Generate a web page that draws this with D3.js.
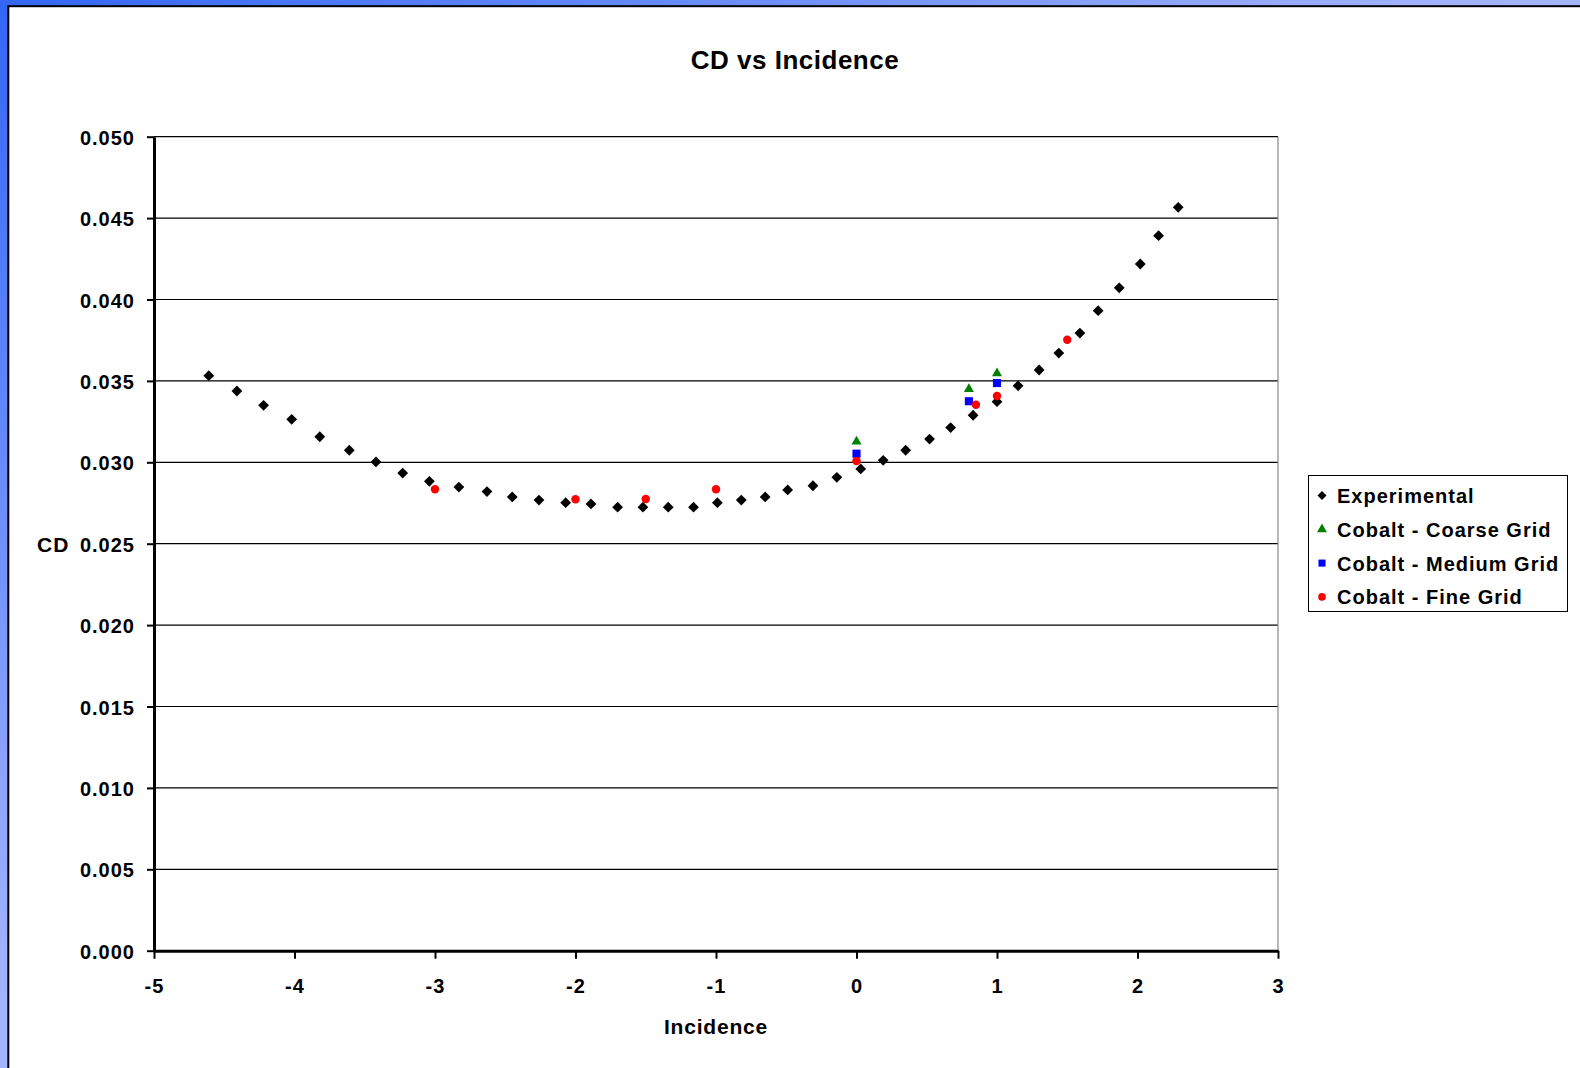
<!DOCTYPE html>
<html>
<head>
<meta charset="utf-8">
<script src="https://cdn.jsdelivr.net/npm/d3@7"></script>
<style>
  body { margin: 0; overflow: hidden; }
  text { font-family: "Liberation Sans", Arial, sans-serif; font-weight: bold; fill: #000; }
</style>
</head>
<body>
<script>
// Experimental data
var expX = [-4.61, -4.41, -4.22, -4.02, -3.82, -3.61, -3.42, -3.23, -3.04, -2.83, -2.63, -2.45, -2.26, -2.07,
            -1.89, -1.70, -1.52, -1.34, -1.16, -0.99, -0.82, -0.65, -0.49, -0.31, -0.14, 0.03, 0.19, 0.35,
            0.52, 0.67, 0.83, 1.00, 1.15, 1.30, 1.44, 1.59, 1.72, 1.87, 2.02, 2.15, 2.29];
var expY = [0.03532, 0.03438, 0.03350, 0.03264, 0.03157, 0.03074, 0.03002, 0.02934, 0.02883, 0.02848, 0.02820,
            0.02787, 0.02768, 0.02752, 0.02744, 0.02724, 0.02724, 0.02724, 0.02724, 0.02752, 0.02768, 0.02787,
            0.02830, 0.02856, 0.02908, 0.02959, 0.03012, 0.03074, 0.03143, 0.03213, 0.03289, 0.03372, 0.03470,
            0.03567, 0.03671, 0.03794, 0.03931, 0.04072, 0.04218, 0.04392, 0.04566];

// Cobalt runs
var coarseX = [0, 0.8, 1.0];
var coarseY = [0.03127, 0.03450, 0.03547];
var mediumX = [0, 0.8, 1.0];
var mediumY = [0.03053, 0.03375, 0.03487];
var fineX = [-3, -2, -1.5, -1, 0, 0.85, 1.0, 1.5];
var fineY = [0.02834, 0.02773, 0.02775, 0.02834, 0.03008, 0.03354, 0.03407, 0.03753];

var xTicks = [-5, -4, -3, -2, -1, 0, 1, 2, 3];
var yTicks = [0, 0.005, 0.01, 0.015, 0.02, 0.025, 0.03, 0.035, 0.04, 0.045, 0.05];
var seriesNames = ["Experimental", "Cobalt - Coarse Grid", "Cobalt - Medium Grid", "Cobalt - Fine Grid"];

var width = 1580;
var height = 1068;
var plotLeft = 154, plotRight = 1278, plotTop = 136.7, plotBottom = 950.7;

var svg = d3.select("body").append("svg")
  .attr("width", width)
  .attr("height", height);

// blue slide frame
var grad = svg.append("defs").append("linearGradient")
  .attr("id", "frame").attr("x1", 0).attr("y1", 0).attr("x2", 1).attr("y2", 1);
grad.append("stop").attr("offset", 0).attr("stop-color", "#3366f5");
grad.append("stop").attr("offset", 0.45).attr("stop-color", "#a0b2ff");
grad.append("stop").attr("offset", 1).attr("stop-color", "#c4d0ff");

svg.append("rect").attr("width", width).attr("height", height).attr("fill", "url(#frame)");
svg.append("rect")
  .attr("x", 8.3).attr("y", 6.2)
  .attr("width", width).attr("height", height)
  .attr("fill", "#fff").attr("stroke", "#000").attr("stroke-width", 2);

var xScale = d3.scaleLinear().domain([-5, 3]).range([plotLeft, plotRight]);
var yScale = d3.scaleLinear().domain([0, 0.05]).range([plotBottom, plotTop]);

// gridlines
svg.append("g").selectAll("line").data(yTicks.slice(1)).enter().append("line")
  .attr("x1", plotLeft).attr("x2", plotRight)
  .attr("y1", function(d) { return yScale(d); })
  .attr("y2", function(d) { return yScale(d); })
  .attr("stroke", "#000").attr("stroke-width", 1.2);

// right border of plot area
svg.append("line")
  .attr("x1", plotRight).attr("x2", plotRight).attr("y1", plotTop).attr("y2", plotBottom)
  .attr("stroke", "#888").attr("stroke-width", 1.2);

var xAxis = d3.axisBottom(xScale).tickValues(xTicks).tickSize(8).tickSizeOuter(0).tickPadding(20)
  .tickFormat(function(d) { return String(d); });
var yAxis = d3.axisLeft(yScale).tickValues(yTicks).tickSize(7).tickSizeOuter(0).tickPadding(12)
  .tickFormat(function(d) { return d.toFixed(3); });

var gx = svg.append("g").attr("transform", "translate(0," + plotBottom + ")").call(xAxis);
var gy = svg.append("g").attr("transform", "translate(" + plotLeft + ",0)").call(yAxis);

[gx, gy].forEach(function(g) {
  g.select(".domain").attr("stroke", "#000").attr("stroke-width", 3);
  g.selectAll(".tick line").attr("stroke", "#000").attr("stroke-width", 2);
  g.selectAll(".tick text")
    .style("font-family", "'Liberation Sans', Arial, sans-serif")
    .style("font-weight", "bold")
    .style("font-size", "20px")
    .style("letter-spacing", "1px")
    .attr("fill", "#000");
});
gy.selectAll(".tick text").attr("dy", "0.38em");

// titles
svg.append("text").attr("x", 795).attr("y", 69)
  .attr("text-anchor", "middle").style("font-size", "26px").style("letter-spacing", "0.5px")
  .text("CD vs Incidence");
svg.append("text").attr("x", 716).attr("y", 1034)
  .attr("text-anchor", "middle").style("font-size", "21px").style("letter-spacing", "0.8px")
  .text("Incidence");
svg.append("text").attr("x", 37).attr("y", 552)
  .style("font-size", "21px").style("letter-spacing", "1px")
  .text("CD");

// markers
var diamond = d3.symbol().type(d3.symbolSquare).size(58);
var triangle = d3.symbol().type(d3.symbolTriangle).size(44);
var square = d3.symbol().type(d3.symbolSquare).size(66);
var circle = d3.symbol().type(d3.symbolCircle).size(56);

var series = [
  { xs: expX, ys: expY, sym: diamond, color: "#000", rot: 45 },
  { xs: coarseX, ys: coarseY, sym: triangle, color: "#008000", rot: 0 },
  { xs: mediumX, ys: mediumY, sym: square, color: "#0000ff", rot: 0 },
  { xs: fineX, ys: fineY, sym: circle, color: "#ff0000", rot: 0 }
];

series.forEach(function(s) {
  svg.append("g").selectAll("path").data(d3.range(s.xs.length)).enter().append("path")
    .attr("d", s.sym)
    .attr("fill", s.color)
    .attr("transform", function(i) {
      return "translate(" + xScale(s.xs[i]) + "," + yScale(s.ys[i]) + ") rotate(" + s.rot + ")";
    });
});

// legend
var legend = svg.append("g");
legend.append("rect")
  .attr("x", 1308.5).attr("y", 475.5).attr("width", 259).attr("height", 136)
  .attr("fill", "#fff").attr("stroke", "#000").attr("stroke-width", 1);

var legSyms = [
  d3.symbol().type(d3.symbolSquare).size(40),
  d3.symbol().type(d3.symbolTriangle).size(42),
  d3.symbol().type(d3.symbolSquare).size(50),
  d3.symbol().type(d3.symbolCircle).size(46)
];
seriesNames.forEach(function(name, i) {
  var by = 503 + i * 33.8;
  legend.append("path")
    .attr("d", legSyms[i])
    .attr("fill", series[i].color)
    .attr("transform", "translate(1322," + (by - 7.5) + ") rotate(" + series[i].rot + ")");
  legend.append("text")
    .attr("x", 1337).attr("y", by)
    .style("font-size", "20px").style("letter-spacing", "1px")
    .text(name);
});
</script>
</body>
</html>
